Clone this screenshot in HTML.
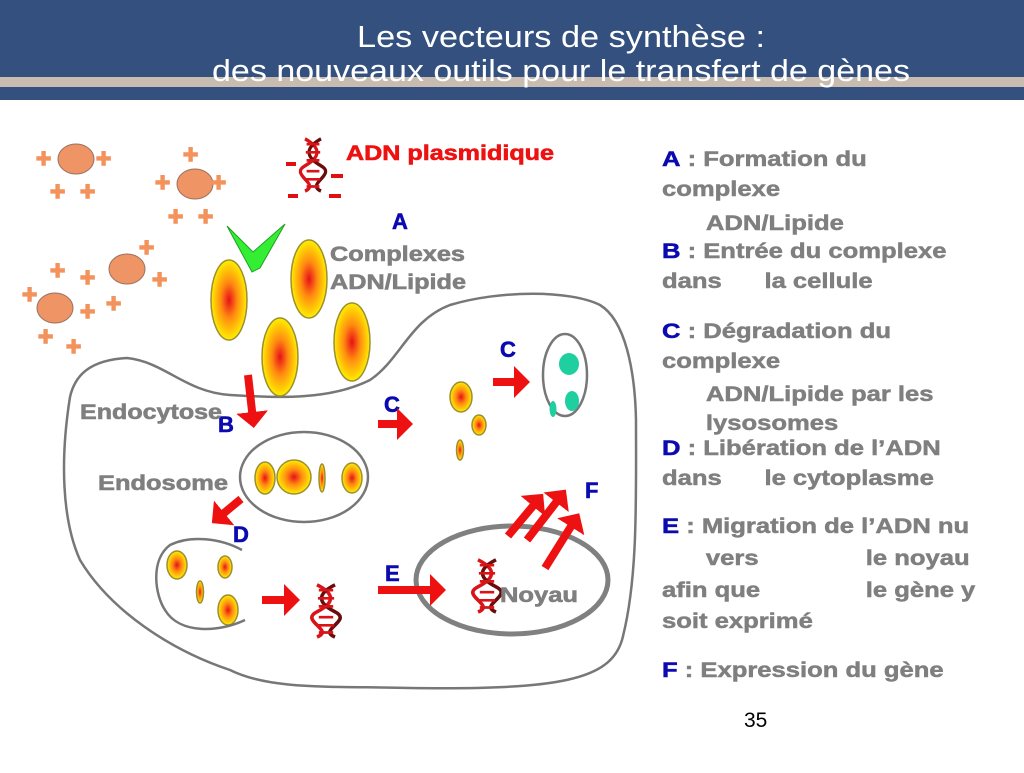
<!DOCTYPE html>
<html><head><meta charset="utf-8"><style>
body{margin:0;width:1024px;height:768px;background:#fff;overflow:hidden;font-family:"Liberation Sans",Arial,sans-serif}
</style></head><body>
<svg width="1024" height="768" viewBox="0 0 1024 768" xmlns="http://www.w3.org/2000/svg" font-family="Liberation Sans, Arial, sans-serif">
<defs>
<radialGradient id="g"><stop offset="0" stop-color="#e8101a"/><stop offset="0.45" stop-color="#ff8a10"/><stop offset="1" stop-color="#ffee00"/></radialGradient>
<g id="hx">
<path d="M-10,-28 C10,-18 10,-8 -10,2 C-30,12 10,22 -10,30" fill="none" stroke="#d81418" stroke-width="4"/>
<path d="M10,-28 C-10,-18 -10,-8 10,2 C30,12 -10,22 10,30" fill="none" stroke="#6a0c0c" stroke-width="4"/>
<path d="M-8,-22h16M-9,-13h18M-8,-4h16M-8,8h16M-9,17h18M-8,25h16" stroke="#d81418" stroke-width="3"/>
</g>
<marker id="ar" markerWidth="4" markerHeight="4" refX="1" refY="2" orient="auto"><path d="M0,0L2,2L0,4z" fill="#ee1111"/></marker>
</defs>
<!-- header -->
<rect x="0" y="0" width="1024" height="100" fill="#33507f"/>
<rect x="0" y="77" width="1024" height="10" fill="#c8bcb0"/>
<text x="357" y="47" font-size="31" fill="#fff" textLength="408" lengthAdjust="spacingAndGlyphs">Les vecteurs de synthèse :</text>
<text x="212" y="81" font-size="31" fill="#fff" textLength="698" lengthAdjust="spacingAndGlyphs">des nouveaux outils pour le transfert de gènes</text>

<!-- cell -->
<path d="M70,397 C75,375 90,360 127,358 C165,362 185,392 230,395 C280,398 330,400 370,380 C400,360 410,320 450,305 C500,290 570,290 600,305 C625,320 635,370 636,420 C636,500 638,580 622,640 C610,680 560,690 410,688 C330,686 270,690 230,670 C170,650 110,610 80,560 C62,520 60,460 70,397Z" fill="none" stroke="#777" stroke-width="2.5"/>

<!-- lipids -->
<g fill="#ef9464" stroke="#9a7060" stroke-width="1">
<ellipse cx="76" cy="159" rx="18" ry="15"/><ellipse cx="195" cy="184" rx="18" ry="15"/>
<ellipse cx="127" cy="269" rx="18" ry="15"/><ellipse cx="55" cy="308" rx="18" ry="15"/>
</g>
<g fill="#f4925c" stroke="#f4925c" stroke-width="1.5" font-size="26" font-weight="bold">
<text x="36" y="167">+</text><text x="96" y="167">+</text><text x="50" y="200">+</text><text x="80" y="200">+</text>
<text x="183" y="163">+</text><text x="155" y="191">+</text><text x="211" y="191">+</text><text x="168" y="225">+</text><text x="198" y="225">+</text>
<text x="139" y="256">+</text><text x="50" y="279">+</text><text x="80" y="286">+</text><text x="152" y="288">+</text><text x="106" y="312">+</text>
<text x="22" y="303">+</text><text x="80" y="320">+</text><text x="38" y="345">+</text><text x="66" y="355">+</text>
</g>
<!-- plasmid -->
<use href="#hx" transform="translate(313,164) scale(0.8,0.9)"/>
<g stroke="#e01010" stroke-width="4"><path d="M286,164h10M331,176h12M288,196h10M329,196h12"/></g>
<text x="346" y="160" font-size="21" font-weight="bold" fill="#ee1111" stroke="#ee1111" stroke-width="0.6" textLength="208" lengthAdjust="spacingAndGlyphs">ADN plasmidique</text>
<g font-size="22" font-weight="bold" fill="#0a0ab0" stroke="#0a0ab0" stroke-width="0.6">
<text x="392" y="229">A</text>
<text x="218" y="432">B</text><text x="384" y="412">C</text><text x="500" y="357">C</text>
<text x="233" y="542">D</text><text x="385" y="581">E</text><text x="585" y="498">F</text>
</g>
<g font-size="21" font-weight="bold" fill="#7f7f7f" stroke="#7f7f7f" stroke-width="0.6" lengthAdjust="spacingAndGlyphs">
<text x="330" y="261" textLength="135" lengthAdjust="spacingAndGlyphs">Complexes</text>
<text x="330" y="289" textLength="136" lengthAdjust="spacingAndGlyphs">ADN/Lipide</text>
<text x="80" y="419" textLength="142" lengthAdjust="spacingAndGlyphs">Endocytose</text>
<text x="98" y="490" textLength="130" lengthAdjust="spacingAndGlyphs">Endosome</text>
</g>
<!-- green check -->
<path d="M227,226 L253,252 L285,224 L260,268 L252,272Z" fill="#33ee33" stroke="#20a020" stroke-width="1"/>
<!-- complexes -->
<g fill="url(#g)" stroke="#9a9030" stroke-width="1.5">
<ellipse cx="229" cy="300" rx="18" ry="40"/><ellipse cx="309" cy="279" rx="18" ry="39"/>
<ellipse cx="280" cy="357" rx="18" ry="39"/><ellipse cx="352" cy="342" rx="18" ry="39"/>
<ellipse cx="461" cy="397" rx="11" ry="15"/><ellipse cx="479" cy="425" rx="7" ry="10"/><ellipse cx="460" cy="450" rx="3.5" ry="10"/>
<ellipse cx="265" cy="478" rx="10" ry="16"/><ellipse cx="294" cy="477" rx="17" ry="17"/><ellipse cx="322" cy="478" rx="3" ry="14"/><ellipse cx="352" cy="478" rx="10" ry="15"/>
<ellipse cx="177" cy="565" rx="10" ry="14"/><ellipse cx="225" cy="567" rx="7" ry="11"/><ellipse cx="200" cy="592" rx="3.5" ry="11"/><ellipse cx="228" cy="610" rx="10" ry="15"/>
</g>
<!-- lysosome -->
<ellipse cx="565" cy="375" rx="22" ry="41" fill="#fff" stroke="#777" stroke-width="2.5"/>
<g fill="#1fcfa0"><ellipse cx="569" cy="364" rx="10" ry="11"/><ellipse cx="572" cy="401" rx="7" ry="10"/><ellipse cx="553" cy="409" rx="3.5" ry="8"/></g>
<!-- endosome -->
<ellipse cx="304" cy="477" rx="64" ry="45" fill="none" stroke="#777" stroke-width="2.5"/>
<path d="M242,550 C220,538 190,535 170,545 C150,560 155,595 165,610 C180,635 220,632 245,620" fill="none" stroke="#777" stroke-width="2.5"/>
<!-- nucleus -->
<ellipse cx="512" cy="580" rx="96" ry="54" fill="none" stroke="#808080" stroke-width="5"/>
<use href="#hx" transform="translate(487,585) scale(0.9)"/>
<text x="500" y="602" font-size="21" font-weight="bold" fill="#7f7f7f" stroke="#7f7f7f" stroke-width="0.6" textLength="78" lengthAdjust="spacingAndGlyphs">Noyau</text>
<use href="#hx" transform="translate(326,610) scale(0.9)"/>
<!-- arrows -->
<g stroke="#ee1111" stroke-width="8" marker-end="url(#ar)" fill="none">
<path d="M248,375 L253,420"/>
<path d="M378,424 H405"/>
<path d="M493,382 H522"/>
<path d="M241,499 L218,518"/>
<path d="M262,600 H292"/>
<path d="M378,590 H438"/>
<path d="M508,536 L538,500"/>
<path d="M527,540 L561,496"/>
<path d="M545,568 L575,520"/>
</g>
<!-- legend -->
<g transform="translate(662,0) scale(1.22,1) translate(-662,0)" font-size="21" font-weight="bold" fill="#7f7f7f" stroke="#7f7f7f" stroke-width="0.5">
<text x="662" y="166"><tspan fill="#0a0ab0" stroke="#0a0ab0">A</tspan> : Formation du</text>
<text x="662" y="196">complexe</text>
<text x="698" y="230">ADN/Lipide</text>
<text x="662" y="258"><tspan fill="#0a0ab0" stroke="#0a0ab0">B</tspan> : Entrée du complexe</text>
<text x="662" y="288">dans</text><text x="746" y="288">la cellule</text>
<text x="662" y="338"><tspan fill="#0a0ab0" stroke="#0a0ab0">C</tspan> : Dégradation du</text>
<text x="662" y="368">complexe</text>
<text x="698" y="401">ADN/Lipide par les</text>
<text x="698" y="430">lysosomes</text>
<text x="662" y="455"><tspan fill="#0a0ab0" stroke="#0a0ab0">D</tspan> : Libération de l’ADN</text>
<text x="662" y="485">dans</text><text x="746" y="485">le cytoplasme</text>
<text x="662" y="533"><tspan fill="#0a0ab0" stroke="#0a0ab0">E</tspan> : Migration de l’ADN nu</text>
<text x="698" y="565">vers</text><text x="829" y="565">le noyau</text>
<text x="662" y="597">afin que</text><text x="829" y="597">le gène y</text>
<text x="662" y="628">soit exprimé</text>
<text x="662" y="677"><tspan fill="#0a0ab0" stroke="#0a0ab0">F</tspan> :  Expression du gène</text>
</g>
<text x="744" y="727" font-size="21" fill="#000">35</text>
</svg>
</body></html>
